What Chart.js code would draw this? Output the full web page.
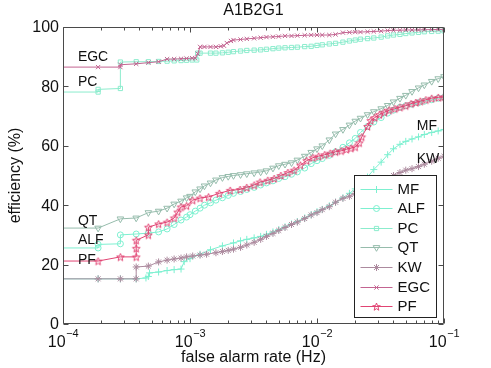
<!DOCTYPE html>
<html>
<head>
<meta charset="utf-8">
<script src="https://cdn.jsdelivr.net/npm/chart.js@4.4.1/dist/chart.umd.min.js"></script>
<style>
html,body{margin:0;padding:0;background:#fff;}
canvas{display:block;}
</style>
</head>
<body>
<canvas id="c" width="491" height="368"></canvas>
<script>
// ---------- data (false alarm rate in Hz, efficiency in %) ----------
const seriesNames = ['MF', 'ALF', 'PC', 'QT', 'KW', 'EGC', 'PF'];

const mfX = [5e-5, 1.89e-4, 2.83e-4, 3.77e-4, 4.5e-4, 4.7e-4, 4.8e-4, 5.66e-4, 6.6e-4, 7.5e-4, 8.5e-4, 9e-4, 1e-3, 1.2e-3, 1.45e-3, 1.8e-3, 2.2e-3, 2.5e-3, 2.8e-3, 3.2e-3, 3.6e-3, 4e-3, 4.5e-3, 5e-3, 5.6e-3, 6.3e-3, 7e-3, 8e-3, 9e-3, 1e-2, 1.1e-2, 1.25e-2, 1.4e-2, 1.6e-2, 1.8e-2, 2e-2, 2.2e-2, 2.5e-2, 2.8e-2, 3.2e-2, 3.6e-2, 4e-2, 4.5e-2, 5e-2, 5.6e-2, 6.3e-2, 7e-2, 8e-2, 9e-2, 1e-1];
const mfY = [15.2, 15.2, 15.2, 15.2, 15.5, 16, 17.2, 17.5, 18, 18.3, 18.5, 21, 22, 23.5, 25, 26.3, 27.3, 28, 28.5, 29, 29.5, 30.2, 31, 31.8, 32.7, 33.7, 34.5, 35.7, 36.8, 37.8, 38.6, 39.8, 41, 42.5, 44, 45.5, 47, 49.5, 52, 54.5, 57, 59, 60.5, 61.5, 62.3, 63, 63.8, 64.5, 65, 65.5];

const alfX = [5e-5, 1.89e-4, 1.89e-4, 2.83e-4, 2.83e-4, 3.77e-4, 4.7e-4, 5.66e-4, 6.6e-4, 7.5e-4, 8.5e-4, 9.4e-4, 1e-3, 1.1e-3, 1.2e-3, 1.3e-3, 1.45e-3, 1.6e-3, 1.8e-3, 2e-3, 2.2e-3, 2.5e-3, 2.8e-3, 3.2e-3, 3.6e-3, 4e-3, 4.5e-3, 5e-3, 5.6e-3, 6.3e-3, 7e-3, 8e-3, 9e-3, 1e-2, 1.1e-2, 1.25e-2, 1.4e-2, 1.6e-2, 1.8e-2, 2e-2, 2.2e-2, 2.5e-2, 2.8e-2, 3.2e-2, 3.6e-2, 4e-2, 4.5e-2, 5e-2, 5.6e-2, 6.3e-2, 7e-2, 8e-2, 9e-2, 1e-1];
const alfY = [25.6, 25.6, 26.8, 27, 30, 30.3, 30.6, 31, 32, 33.5, 35, 36, 36.8, 38, 39, 40, 40.8, 41.7, 42.5, 43.3, 44, 44.6, 45.3, 46, 46.8, 47.5, 48.2, 49, 49.6, 50.4, 51.2, 52.5, 54, 55, 55.7, 56.8, 58, 59.5, 61, 62.5, 64.5, 66.5, 68, 69.5, 71, 72, 73, 73.5, 74, 74.5, 75, 75.5, 76, 76.3];

const pcX = [5e-5, 1.89e-4, 1.89e-4, 2.83e-4, 2.83e-4, 3.77e-4, 4.7e-4, 5.66e-4, 6.6e-4, 7.5e-4, 8.5e-4, 9.4e-4, 1.04e-3, 1.13e-3, 1.15e-3, 1.2e-3, 1.45e-3, 1.6e-3, 1.8e-3, 2e-3, 2.2e-3, 2.5e-3, 2.8e-3, 3.2e-3, 3.6e-3, 4e-3, 4.5e-3, 5e-3, 5.6e-3, 6.3e-3, 7e-3, 8e-3, 9e-3, 1e-2, 1.1e-2, 1.25e-2, 1.4e-2, 1.6e-2, 1.8e-2, 2e-2, 2.2e-2, 2.5e-2, 2.8e-2, 3.2e-2, 3.6e-2, 4e-2, 4.5e-2, 5e-2, 5.6e-2, 6.3e-2, 7e-2, 8e-2, 9e-2, 1e-1];
const pcY = [78.1, 78.1, 79, 79.3, 88.2, 88.3, 88.3, 88.4, 88.5, 88.6, 88.7, 88.8, 88.9, 88.9, 91.2, 91.2, 91.2, 91.2, 91.3, 91.5, 91.7, 91.9, 92.1, 92.2, 92.3, 92.5, 92.7, 92.9, 93, 93.1, 93.2, 93.4, 93.5, 93.8, 94, 94.3, 94.5, 94.9, 95.3, 95.6, 95.9, 96.1, 96.3, 96.6, 97, 97.3, 97.5, 97.8, 98, 98.2, 98.4, 98.5, 98.6, 98.7];

const qtX = [5e-5, 1.89e-4, 2.83e-4, 3.77e-4, 4.7e-4, 5.66e-4, 6.6e-4, 7.5e-4, 8.5e-4, 9.4e-4, 1e-3, 1.1e-3, 1.2e-3, 1.3e-3, 1.45e-3, 1.6e-3, 1.8e-3, 2e-3, 2.2e-3, 2.5e-3, 2.8e-3, 3.2e-3, 3.6e-3, 4e-3, 4.5e-3, 5e-3, 5.6e-3, 6.3e-3, 7e-3, 8e-3, 9e-3, 1e-2, 1.1e-2, 1.25e-2, 1.4e-2, 1.6e-2, 1.8e-2, 2e-2, 2.2e-2, 2.5e-2, 2.8e-2, 3.2e-2, 3.6e-2, 4e-2, 4.5e-2, 5e-2, 5.6e-2, 6.3e-2, 7e-2, 8e-2, 9e-2, 1e-1];
const qtY = [32.3, 32.3, 35.4, 35.7, 37.5, 38, 39, 40.4, 41.4, 42.5, 43, 44.5, 45.5, 46.5, 47.5, 48.5, 49.3, 49.7, 50, 50.3, 50.6, 50.9, 51.2, 51.6, 52.5, 53.3, 53.8, 54.3, 55.2, 56.5, 57.8, 59, 60, 62, 64, 65.5, 67, 68.3, 69.3, 70.5, 71.5, 72.5, 73.6, 74.8, 76, 77, 78.3, 79.5, 80.5, 81.7, 82.6, 83.3];

const kwX = [5e-5, 1.89e-4, 2.83e-4, 3.77e-4, 3.77e-4, 4.7e-4, 5.66e-4, 6.6e-4, 7.5e-4, 8.5e-4, 9.4e-4, 1.05e-3, 1.2e-3, 1.35e-3, 1.6e-3, 1.8e-3, 2e-3, 2.2e-3, 2.5e-3, 2.8e-3, 3.2e-3, 3.6e-3, 4e-3, 4.5e-3, 5e-3, 5.6e-3, 6.3e-3, 7e-3, 8e-3, 9e-3, 1e-2, 1.1e-2, 1.25e-2, 1.4e-2, 1.6e-2, 1.8e-2, 2e-2, 2.2e-2, 2.5e-2, 2.8e-2, 3.2e-2, 3.6e-2, 4e-2, 4.5e-2, 5e-2, 5.6e-2, 6.3e-2, 7e-2, 8e-2, 9e-2, 1e-1];
const kwY = [15.2, 15.2, 15.2, 15.2, 19.2, 19.5, 20.9, 21.5, 21.9, 22.2, 22.6, 22.9, 23.2, 23.5, 24, 24.4, 24.8, 25.2, 25.8, 26.6, 27.5, 28.5, 29.5, 30.5, 31.5, 32.5, 33.5, 34.3, 35.5, 36.7, 37.5, 38.5, 39.5, 41, 42.3, 43, 44, 44.8, 45.8, 46.8, 47.8, 49, 50, 51, 51.8, 52.3, 53, 53.8, 54.8, 55.8, 56.5];

const egcX = [5e-5, 1.89e-4, 2.83e-4, 2.83e-4, 3.77e-4, 4.7e-4, 5.66e-4, 6.6e-4, 7.5e-4, 8.5e-4, 9.4e-4, 1.04e-3, 1.1e-3, 1.15e-3, 1.2e-3, 1.3e-3, 1.45e-3, 1.6e-3, 1.75e-3, 1.85e-3, 1.95e-3, 2.1e-3, 2.2e-3, 2.5e-3, 2.8e-3, 3.2e-3, 3.6e-3, 4e-3, 4.5e-3, 5e-3, 5.6e-3, 6.3e-3, 7e-3, 8e-3, 9e-3, 1e-2, 1.1e-2, 1.25e-2, 1.4e-2, 1.6e-2, 1.8e-2, 2e-2, 2.2e-2, 2.5e-2, 2.8e-2, 3.2e-2, 3.6e-2, 4e-2, 4.5e-2, 5e-2, 5.6e-2, 6.3e-2, 7e-2, 8e-2, 9e-2, 1e-1];
const egcY = [86.5, 86.5, 86.5, 87.3, 87.6, 88, 88.3, 89.2, 89.2, 89.3, 89.4, 89.5, 89.5, 91, 93.3, 93.3, 93.3, 93.3, 93.5, 93.7, 94.6, 95.3, 95.6, 95.8, 96, 96.2, 96.4, 96.6, 96.7, 96.8, 97, 97, 97.1, 97.2, 97.3, 97.3, 97.3, 97.3, 97.5, 98.1, 98.2, 98.3, 98.3, 98.4, 98.5, 98.6, 98.8, 98.9, 98.9, 99, 99, 99, 99.1, 99.1, 99.2, 99.2];

const pfX = [5e-5, 1.89e-4, 2.83e-4, 3.77e-4, 3.77e-4, 3.77e-4, 4.7e-4, 4.7e-4, 5.66e-4, 6.6e-4, 7.5e-4, 8e-4, 8.5e-4, 9.4e-4, 1.05e-3, 1.2e-3, 1.4e-3, 1.7e-3, 2.07e-3, 2.48e-3, 2.8e-3, 3.2e-3, 3.56e-3, 4.1e-3, 4.6e-3, 5.2e-3, 5.9e-3, 6.6e-3, 7.4e-3, 8.3e-3, 9.3e-3, 1.03e-2, 1.15e-2, 1.27e-2, 1.4e-2, 1.55e-2, 1.7e-2, 1.85e-2, 2e-2, 2.15e-2, 2.25e-2, 2.5e-2, 2.65e-2, 2.85e-2, 3.1e-2, 3.4e-2, 3.7e-2, 4.1e-2, 4.5e-2, 5e-2, 5.5e-2, 6e-2, 6.5e-2, 7.2e-2, 8e-2, 9e-2, 1e-1];
const pfY = [21.2, 21.2, 22.6, 22.6, 25.5, 28.2, 30, 32.6, 33.7, 34.3, 35.7, 37.7, 39.4, 39.8, 41.7, 42.4, 42.8, 44, 45, 45.3, 46, 46.8, 47.8, 48.4, 49, 50, 51, 51.8, 53.5, 55, 56, 56.5, 57, 57.5, 58, 58.3, 58.8, 59.2, 59.6, 61, 63, 66.5, 68.5, 69.5, 70.5, 71.3, 72, 72.5, 73, 73.5, 74.2, 74.6, 75, 75.5, 76, 76.3, 76.5];

// axis tick values
const yTicks = [0, 20, 40, 60, 80, 100];
const xDecadeExps = [-4, -3, -2, -1];

// in-plot text labels: [text, false alarm rate, efficiency]
const curveLabels = [
  ['EGC', 1.31e-4, 89.7],
  ['PC', 1.31e-4, 81.5],
  ['QT', 1.31e-4, 34.8],
  ['ALF', 1.31e-4, 28.1],
  ['PF', 1.31e-4, 21.5],
  ['MF', 6.1e-2, 66.7],
  ['KW', 6.1e-2, 55.6]
];

// ---------- styles ----------
const FONT = "'Liberation Sans', Arial, Helvetica, sans-serif";
const colors = {
  MF: 'rgb(125,240,208)',
  ALF: 'rgb(125,240,208)',
  PC: 'rgb(140,236,205)',
  QT: 'rgb(150,188,172)',
  KW: 'rgb(172,138,158)',
  EGC: 'rgb(195,100,145)',
  PF: 'rgb(225,68,115)'
};

function makePentagram(color, R) {
  const c = document.createElement('canvas');
  const s = Math.ceil(2 * R + 3);
  c.width = s; c.height = s;
  const g = c.getContext('2d');
  g.strokeStyle = color; g.lineWidth = 1;
  g.beginPath();
  for (let i = 0; i < 10; i++) {
    const ang = -Math.PI / 2 + i * Math.PI / 5;
    const r = (i % 2) ? R * 0.42 : R;
    const px = s / 2 + r * Math.cos(ang), py = s / 2 + r * Math.sin(ang) + 0.5;
    if (i === 0) g.moveTo(px, py); else g.lineTo(px, py);
  }
  g.closePath(); g.stroke();
  return c;
}

const markers = {
  MF: { style: 'cross', r: 3.5, rot: 0 },
  ALF: { style: 'circle', r: 3, rot: 0 },
  PC: { style: 'rect', r: 3, rot: 0 },
  QT: { style: 'triangle', r: 3.8, rot: 180 },
  KW: { style: 'star', r: 3.5, rot: 0 },
  EGC: { style: 'crossRot', r: 3, rot: 0 },
  PF: { style: makePentagram(colors.PF, 4), r: 4, rot: 0 }
};

const seriesData = {
  MF: [mfX, mfY], ALF: [alfX, alfY], PC: [pcX, pcY], QT: [qtX, qtY],
  KW: [kwX, kwY], EGC: [egcX, egcY], PF: [pfX, pfY]
};

function toPoints(xs, ys) {
  const out = [];
  for (let i = 0; i < Math.min(xs.length, ys.length); i++) out.push({ x: xs[i], y: ys[i] });
  return out;
}

const datasets = seriesNames.map((name, i) => ({
  label: name,
  data: toPoints(seriesData[name][0], seriesData[name][1]),
  showLine: true,
  borderColor: colors[name],
  backgroundColor: colors[name],
  borderWidth: 1,
  pointStyle: markers[name].style,
  pointRadius: markers[name].r,
  pointRotation: markers[name].rot,
  pointBorderColor: colors[name],
  pointBackgroundColor: 'rgba(0,0,0,0)',
  pointBorderWidth: 1,
  tension: 0,
  order: seriesNames.length - 1 - i
}));

// ---------- custom MATLAB-like frame, labels, legend ----------
const framePlugin = {
  id: 'frame',
  afterDraw(chart) {
    const ctx = chart.ctx;
    const a = chart.chartArea;
    const xs = chart.scales.x, ys = chart.scales.y;
    const L = Math.round(a.left) + 0.5, R = Math.round(a.right) - 0.5;
    const T = Math.round(a.top) + 0.5, B = Math.round(a.bottom) - 0.5;
    ctx.save();

    // axes box
    ctx.strokeStyle = '#4a4a4a';
    ctx.lineWidth = 1;
    ctx.beginPath();
    ctx.rect(L, T, R - L, B - T);
    ctx.stroke();

    // y ticks (inward, both sides)
    ctx.beginPath();
    yTicks.forEach(v => {
      const py = Math.round(ys.getPixelForValue(v)) + 0.5;
      ctx.moveTo(L, py); ctx.lineTo(L + 5, py);
      ctx.moveTo(R, py); ctx.lineTo(R - 5, py);
    });
    // x ticks: majors and minors (inward, top and bottom)
    for (let e = -4; e <= -1; e++) {
      for (let m = 1; m <= 9; m++) {
        if (e === -1 && m > 1) break;
        const v = m * Math.pow(10, e);
        const px = Math.round(xs.getPixelForValue(v)) + 0.5;
        const len = (m === 1) ? 5 : 3;
        ctx.moveTo(px, B); ctx.lineTo(px, B - len);
        ctx.moveTo(px, T); ctx.lineTo(px, T + len);
      }
    }
    ctx.stroke();

    // y tick labels
    ctx.fillStyle = '#111';
    ctx.font = '16px ' + FONT;
    ctx.textAlign = 'right';
    ctx.textBaseline = 'middle';
    yTicks.forEach(v => {
      ctx.fillText(String(v), a.left - 4, ys.getPixelForValue(v) + 1);
    });

    // x tick labels 10^n
    xDecadeExps.forEach(e => {
      const px = xs.getPixelForValue(Math.pow(10, e));
      ctx.font = '16px ' + FONT;
      const wb = ctx.measureText('10').width;
      ctx.font = '11px ' + FONT;
      const expText = '\u2212' + Math.abs(e);
      const we = ctx.measureText(expText).width;
      const start = px - (wb + we) / 2;
      ctx.textAlign = 'left';
      ctx.textBaseline = 'alphabetic';
      ctx.font = '16px ' + FONT;
      ctx.fillText('10', start, a.bottom + 23);
      ctx.font = '11px ' + FONT;
      ctx.fillText(expText, start + wb + 0.5, a.bottom + 13);
    });

    // axis titles and chart title
    ctx.font = '16px ' + FONT;
    ctx.textAlign = 'center';
    ctx.textBaseline = 'alphabetic';
    ctx.fillText('false alarm rate (Hz)', (a.left + a.right) / 2, a.bottom + 38);
    ctx.textBaseline = 'middle';
    ctx.fillText('A1B2G1', (a.left + a.right) / 2, a.top - 16);
    ctx.save();
    ctx.translate(16, (a.top + a.bottom) / 2);
    ctx.rotate(-Math.PI / 2);
    ctx.fillText('efficiency (%)', 0, 0);
    ctx.restore();

    // in-plot curve labels
    ctx.font = '14px ' + FONT;
    ctx.textAlign = 'left';
    ctx.textBaseline = 'middle';
    curveLabels.forEach(([t, fx, fy]) => {
      ctx.fillText(t, xs.getPixelForValue(fx), ys.getPixelForValue(fy));
    });

    // legend
    const lgL = Math.round(a.right) - 89.5, lgT = Math.round(a.bottom) - 148.5;
    const lgW = 82, lgH = 142;
    ctx.fillStyle = '#fff';
    ctx.fillRect(lgL, lgT, lgW, lgH);
    ctx.strokeStyle = '#222';
    ctx.strokeRect(lgL, lgT, lgW, lgH);
    ctx.font = '15px ' + FONT;
    seriesNames.forEach((name, i) => {
      const cy = lgT + 13 + i * 19.6;
      ctx.strokeStyle = colors[name];
      ctx.lineWidth = 1;
      ctx.beginPath();
      ctx.moveTo(lgL + 6, Math.round(cy) + 0.5);
      ctx.lineTo(lgL + 38, Math.round(cy) + 0.5);
      ctx.stroke();
      const mk = markers[name];
      if (Chart.helpers && Chart.helpers.drawPoint) {
        ctx.fillStyle = 'rgba(0,0,0,0)';
        Chart.helpers.drawPoint(ctx, { pointStyle: mk.style, rotation: mk.rot, radius: mk.r, borderWidth: 1 }, lgL + 22, Math.round(cy) + 0.5);
        ctx.stroke && null;
      }
      ctx.fillStyle = '#111';
      ctx.textAlign = 'left';
      ctx.textBaseline = 'middle';
      ctx.fillText(name, lgL + 43, cy + 1);
    });
    ctx.restore();
  }
};

new Chart(document.getElementById('c'), {
  type: 'scatter',
  data: { datasets },
  options: {
    responsive: false,
    animation: false,
    devicePixelRatio: 1,
    layout: { padding: { top: 27, right: 47, bottom: 0, left: 0 } },
    plugins: { legend: { display: false }, tooltip: { enabled: false }, title: { display: false } },
    scales: {
      x: {
        type: 'logarithmic', min: 1e-4, max: 1e-1,
        ticks: { display: false },
        grid: { display: false },
        border: { display: false },
        afterFit: s => { s.height = 44; }
      },
      y: {
        type: 'linear', min: 0, max: 100,
        ticks: { display: false },
        grid: { display: false },
        border: { display: false },
        afterFit: s => { s.width = 63; }
      }
    }
  },
  plugins: [framePlugin]
});
</script>
</body>
</html>
